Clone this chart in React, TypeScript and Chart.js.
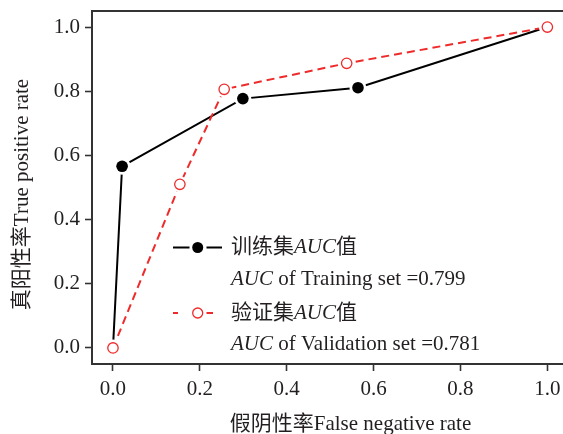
import React, { useEffect, useRef } from 'react';
import { Chart, registerables } from 'chart.js';

Chart.register(...registerables);

// ---- data ----
const trainFPR = [0, 0.021, 0.299, 0.564, 1.0];
const trainTPR = [0, 0.566, 0.777, 0.811, 1.0];
const validFPR = [0, 0.154, 0.256, 0.538, 1.0];
const validTPR = [0, 0.51, 0.806, 0.887, 1.0];
const xTickValues = [0, 0.2, 0.4, 0.6, 0.8, 1.0];
const yTickValues = [0, 0.2, 0.4, 0.6, 0.8, 1.0];
const xTitle = '假阴性率False negative rate';
const yTitle = '真阳性率True positive rate';
const trainLegendName = ['训练集', 'AUC', '值'];
const validLegendName = ['验证集', 'AUC', '值'];
const trainAUC = '0.799';
const validAUC = '0.781';

const W = 563;
const H = 434;
const FONT = '"Liberation Serif", "Times New Roman", "Noto Sans CJK SC", serif';
const TEXT = '#231f20';
const RED = '#ee2a2a';
const AXIS = '#333333';

const toPts = (xs: number[], ys: number[]) => xs.map((x, i) => ({ x, y: ys[i] }));

type Run = { t: string; i?: boolean };

function drawRuns(ctx: CanvasRenderingContext2D, x: number, y: number, runs: Run[], size: number) {
  let cx = x;
  for (const r of runs) {
    ctx.font = `${r.i ? 'italic ' : ''}${size}px ${FONT}`;
    ctx.fillText(r.t, cx, y);
    cx += ctx.measureText(r.t).width;
  }
}

const zeroPad = (s: any) => {
  s.paddingLeft = 0;
  s.paddingRight = 0;
  s.paddingTop = 0;
  s.paddingBottom = 0;
};

const decorPlugin = {
  id: 'decor',
  afterDraw(chart: any) {
    const ctx: CanvasRenderingContext2D = chart.ctx;
    const area = chart.chartArea;
    ctx.save();
    // top border
    ctx.strokeStyle = AXIS;
    ctx.lineWidth = 2;
    ctx.beginPath();
    ctx.moveTo(area.left - 1, area.top);
    ctx.lineTo(area.right, area.top);
    ctx.stroke();

    // axis titles
    ctx.fillStyle = TEXT;
    ctx.textBaseline = 'middle';
    ctx.textAlign = 'center';
    ctx.font = `21px ${FONT}`;
    ctx.fillText(xTitle, 350.5, 424);
    ctx.save();
    ctx.translate(22, 194.5);
    ctx.rotate(-Math.PI / 2);
    ctx.fillText(yTitle, 0, 0);
    ctx.restore();

    // legend
    const lx = 231;
    const rows = [247.5, 279, 313, 344];
    ctx.textAlign = 'left';
    ctx.fillStyle = TEXT;
    drawRuns(ctx, lx, rows[0], [{ t: trainLegendName[0] }, { t: trainLegendName[1], i: true }, { t: trainLegendName[2] }], 21);
    drawRuns(ctx, lx, rows[1], [{ t: 'AUC', i: true }, { t: ' of Training set =' + trainAUC }], 21);
    drawRuns(ctx, lx, rows[2], [{ t: validLegendName[0] }, { t: validLegendName[1], i: true }, { t: validLegendName[2] }], 21);
    drawRuns(ctx, lx, rows[3], [{ t: 'AUC', i: true }, { t: ' of Validation set =' + validAUC }], 21);

    // legend symbols
    ctx.strokeStyle = '#000';
    ctx.lineWidth = 2;
    ctx.beginPath();
    ctx.moveTo(173, rows[0]);
    ctx.lineTo(189.5, rows[0]);
    ctx.moveTo(206.5, rows[0]);
    ctx.lineTo(222, rows[0]);
    ctx.stroke();
    ctx.fillStyle = '#000';
    ctx.beginPath();
    ctx.arc(197.7, rows[0], 5.5, 0, Math.PI * 2);
    ctx.fill();

    ctx.strokeStyle = RED;
    ctx.lineWidth = 2;
    ctx.beginPath();
    ctx.moveTo(173, rows[2]);
    ctx.lineTo(178, rows[2]);
    ctx.moveTo(206.5, rows[2]);
    ctx.lineTo(213, rows[2]);
    ctx.stroke();
    ctx.lineWidth = 1.3;
    ctx.beginPath();
    ctx.arc(197.7, rows[2], 5, 0, Math.PI * 2);
    ctx.stroke();
    ctx.restore();
  },
};

export default function App() {
  const ref = useRef<HTMLCanvasElement | null>(null);

  useEffect(() => {
    if (!ref.current) return;
    const trainPts = toPts(trainFPR, trainTPR);
    const validPts = toPts(validFPR, validTPR);
    const base = { parsing: false as const };
    const chart = new Chart(ref.current, {
      type: 'scatter',
      data: {
        datasets: [
          {
            ...base,
            label: 'train line',
            data: trainPts,
            showLine: true,
            borderColor: '#000',
            borderWidth: 2,
            pointRadius: 0,
            order: 6,
          },
          {
            ...base,
            label: 'valid line',
            data: validPts,
            showLine: true,
            borderColor: RED,
            borderWidth: 2,
            borderDash: [8, 5],
            pointRadius: 0,
            order: 5,
          },
          {
            ...base,
            label: 'train halo',
            data: trainPts,
            showLine: false,
            pointRadius: 8.5,
            pointBackgroundColor: '#fff',
            pointBorderWidth: 0,
            order: 4,
          },
          {
            ...base,
            label: 'train markers',
            data: trainPts,
            showLine: false,
            pointRadius: 5.8,
            pointBackgroundColor: '#000',
            pointBorderColor: '#000',
            pointBorderWidth: 0,
            order: 3,
          },
          {
            ...base,
            label: 'valid halo',
            data: validPts,
            showLine: false,
            pointRadius: 8,
            pointBackgroundColor: '#fff',
            pointBorderWidth: 0,
            order: 2,
          },
          {
            ...base,
            label: 'valid markers',
            data: validPts,
            showLine: false,
            pointRadius: 5.2,
            pointBackgroundColor: '#fff',
            pointBorderColor: RED,
            pointBorderWidth: 1.3,
            order: 1,
          },
        ],
      },
      options: {
        responsive: false,
        animation: false,
        devicePixelRatio: 1,
        layout: { autoPadding: false, padding: { top: 11, left: 0, right: 0, bottom: 0 } },
        plugins: {
          legend: { display: false },
          tooltip: { enabled: false },
        },
        scales: {
          x: {
            type: 'linear',
            min: -0.0483,
            max: 1.036,
            afterBuildTicks: (s: any) => {
              s.ticks = xTickValues.map((v) => ({ value: v }));
            },
            afterFit: (s: any) => {
              s.height = H - 364;
              zeroPad(s);
            },
            grid: {
              display: true,
              drawOnChartArea: false,
              drawTicks: true,
              tickLength: 7,
              tickWidth: 1.6,
              tickColor: AXIS,
            },
            border: { display: true, width: 2, color: AXIS },
            ticks: {
              color: TEXT,
              font: { family: FONT, size: 21 },
              padding: 6,
              maxRotation: 0,
              autoSkip: false,
              callback: (v: any) => Number(v).toFixed(1),
            },
          },
          y: {
            type: 'linear',
            min: -0.05,
            max: 1.05,
            afterBuildTicks: (s: any) => {
              s.ticks = yTickValues.map((v) => ({ value: v }));
            },
            afterFit: (s: any) => {
              s.width = 92;
              zeroPad(s);
            },
            grid: {
              display: true,
              drawOnChartArea: false,
              drawTicks: true,
              tickLength: 7,
              tickWidth: 1.6,
              tickColor: AXIS,
            },
            border: { display: true, width: 2, color: AXIS },
            ticks: {
              color: TEXT,
              font: { family: FONT, size: 21 },
              padding: 5,
              autoSkip: false,
              callback: (v: any) => Number(v).toFixed(1),
            },
          },
        },
      },
      plugins: [decorPlugin],
    });
    return () => chart.destroy();
  }, []);

  return (
    <div style={{ position: 'absolute', left: 0, top: 0, width: W, height: H, background: '#fff' }}>
      <canvas ref={ref} width={W} height={H} style={{ display: 'block', width: W, height: H }} />
    </div>
  );
}
